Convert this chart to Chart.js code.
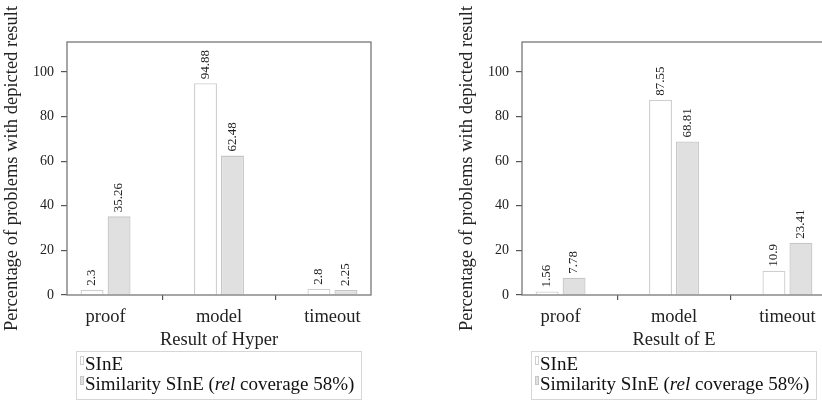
<!DOCTYPE html>
<html lang="en">
<head>
  <meta charset="UTF-8">
  <title>SInE vs Similarity SInE</title>
  <script src="https://cdn.jsdelivr.net/npm/chart.js"></script>
  <style>
    body {
      margin: 0;
      width: 822px;
      height: 402px;
      overflow: hidden;
      background: #fff;
      font-family: "Liberation Serif", serif;
      position: relative;
    }
    .panel {
      position: absolute;
      top: 0;
      width: 455px;
      height: 402px;
    }
    .legend {
      position: absolute;
      left: 76px;
      top: 351px;
      width: 286px;
      height: 49px;
      box-sizing: border-box;
      border: 1px solid #d6d6d6;
      padding-top: 2px;
      font-size: 19px;
      color: #111;
    }
    .legend div {
      height: 20px;
      line-height: 20px;
      white-space: nowrap;
    }
    .swatch {
      display: inline-block;
      width: 2px;
      height: 7px;
      border: 1px solid #cfcfcf;
      margin: 0 1px 5px 3px;
    }
  </style>
</head>
<body>
  <div class="panel" style="left:0">
    <canvas id="hyperChart" width="455" height="402"></canvas>
    <div class="legend" id="hyperLegend"></div>
  </div>
  <div class="panel" style="left:455px">
    <canvas id="eChart" width="455" height="402"></canvas>
    <div class="legend" id="eLegend"></div>
  </div>

  <script>
    const categories = ['proof', 'model', 'timeout'];
    const seriesNames = ['SInE', 'Similarity SInE (rel coverage 58%)'];
    const hyperSine = [2.3, 94.88, 2.8];
    const hyperSimilarity = [35.26, 62.48, 2.25];
    const eSine = [1.56, 87.55, 10.9];
    const eSimilarity = [7.78, 68.81, 23.41];
    const yTicks = [0, 20, 40, 60, 80, 100];

    const serif = '"Liberation Serif", "Times New Roman", serif';
    const textColor = '#222';
    const tickColor = '#555';

    // box round the plot area
    const framePlugin = {
      id: 'frame',
      afterDraw(chart) {
        const { ctx, chartArea: a } = chart;
        ctx.save();
        ctx.strokeStyle = '#777';
        ctx.lineWidth = 1.3;
        ctx.strokeRect(a.left, a.top, a.right - a.left, a.bottom - a.top);
        ctx.restore();
      }
    };

    // rotated numbers above each bar
    const valueLabels = {
      id: 'valueLabels',
      afterDatasetsDraw(chart) {
        const ctx = chart.ctx;
        ctx.save();
        ctx.font = '13px ' + serif;
        ctx.fillStyle = textColor;
        ctx.textAlign = 'left';
        ctx.textBaseline = 'middle';
        chart.data.datasets.forEach((ds, di) => {
          chart.getDatasetMeta(di).data.forEach((bar, i) => {
            ctx.save();
            ctx.translate(bar.x, bar.y - 4);
            ctx.rotate(-Math.PI / 2);
            ctx.fillText(String(ds.data[i].y), 0, 0);
            ctx.restore();
          });
        });
        ctx.restore();
      }
    };

    function makeChart(id, legendId, xTitle, sine, similarity) {
      const chart = new Chart(document.getElementById(id), {
        type: 'bar',
        data: {
          datasets: [{
            label: seriesNames[0],
            data: sine.map((v, i) => ({ x: i, y: v })),
            backgroundColor: '#ffffff',
            borderColor: '#cfcfcf',
            borderWidth: 1.3
          }, {
            label: seriesNames[1],
            data: similarity.map((v, i) => ({ x: i, y: v })),
            backgroundColor: '#e0e0e0',
            borderColor: '#c6c6c6',
            borderWidth: 1.3
          }]
        },
        options: {
          responsive: false,
          animation: false,
          categoryPercentage: 0.476,
          barPercentage: 0.85,
          layout: { padding: { left: 0, top: 42, right: 84, bottom: 51 } },
          plugins: {
            legend: { display: false },
            tooltip: { enabled: false }
          },
          scales: {
            x: {
              type: 'linear',
              min: -0.34,
              max: 2.34,
              offset: false,
              border: { display: false },
              grid: { drawOnChartArea: false, drawTicks: true, tickLength: 5, color: tickColor, lineWidth: 1.2 },
              ticks: {
                stepSize: 1,
                includeBounds: false,
                autoSkip: false,
                maxRotation: 0,
                padding: 6,
                color: textColor,
                font: { family: serif, size: 18.5 },
                callback: v => categories[v] ?? ''
              },
              title: {
                display: true,
                text: xTitle,
                color: textColor,
                padding: { top: 0, bottom: 0 },
                font: { family: serif, size: 18.5 }
              },
              afterFit: s => { s.height = 56; }
            },
            y: {
              min: 0,
              max: 113.4,
              border: { display: false },
              grid: { drawOnChartArea: false, drawTicks: true, tickLength: 6, color: tickColor, lineWidth: 1.2 },
              afterBuildTicks: s => { s.ticks = yTicks.map(v => ({ value: v })); },
              ticks: {
                padding: 7,
                color: textColor,
                font: { family: serif, size: 14 }
              },
              title: {
                display: true,
                text: 'Percentage of problems with depicted result',
                color: textColor,
                padding: { top: 1, bottom: 0 },
                font: { family: serif, size: 18.5 }
              },
              afterFit: s => { s.width = 67; }
            }
          }
        },
        plugins: [framePlugin, valueLabels]
      });

      // legend as html so that "rel" can be italic
      const box = document.getElementById(legendId);
      chart.data.datasets.forEach(ds => {
        const row = document.createElement('div');
        const sw = document.createElement('span');
        sw.className = 'swatch';
        sw.style.background = ds.backgroundColor;
        sw.style.borderColor = ds.borderColor;
        row.appendChild(sw);
        const label = document.createElement('span');
        label.innerHTML = ds.label.replace('rel', '<i>rel</i>');
        row.appendChild(label);
        box.appendChild(row);
      });
      return chart;
    }

    makeChart('hyperChart', 'hyperLegend', 'Result of Hyper', hyperSine, hyperSimilarity);
    makeChart('eChart', 'eLegend', 'Result of E', eSine, eSimilarity);
  </script>
</body>
</html>
